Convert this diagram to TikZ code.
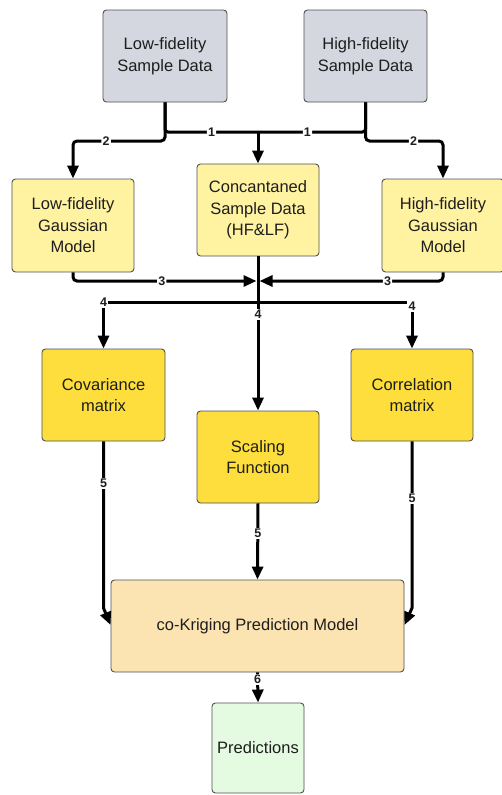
\documentclass[tikz,border=0pt]{standalone}
\usepackage{fontspec}
\setmainfont{Liberation Sans}
\usetikzlibrary{arrows.meta}

\definecolor{sampgrey}{RGB}{212,215,223}
\definecolor{paleyellow}{RGB}{255,243,162}
\definecolor{goldbox}{RGB}{253,222,60}
\definecolor{paleorange}{RGB}{252,227,178}
\definecolor{palegreen}{RGB}{228,250,225}
\definecolor{edgegrey}{RGB}{80,80,80}
\definecolor{inkdark}{RGB}{30,30,30}

\begin{document}
\begin{tikzpicture}[x=1pt,y=-1pt,
  stepbox/.style={draw=edgegrey, line width=0.9pt, rounded corners=3.5pt,
    align=center, inner sep=0pt, text=inkdark,
    font=\fontsize{16.5}{21.5}\selectfont,
    minimum width=122pt, minimum height=92pt},
  conn/.style={line width=3pt, draw=black},
  flow/.style={conn, -{Triangle[length=13pt,width=11pt]}},
  lab/.style={fill=white, inner sep=1.2pt, text=inkdark,
    font=\fontsize{12.5}{13}\selectfont\bfseries}]

\useasboundingbox[fill=white] (0,0) rectangle (501,795);

% input data
\node[stepbox, fill=sampgrey, minimum width=124pt] (lf) at (165,56) {Low-fidelity\\Sample Data};
\node[stepbox, fill=sampgrey, minimum width=123pt] (hf) at (365.5,56) {High-fidelity\\Sample Data};

% surrogate models and merged data
\node[stepbox, fill=paleyellow, minimum height=93pt] (lfg) at (73,225.5) {Low-fidelity\\Gaussian\\Model};
\node[stepbox, fill=paleyellow] (cat) at (258,210) {Concantaned\\Sample Data\\(HF\&LF)};
\node[stepbox, fill=paleyellow, minimum height=93pt] (hfg) at (443,225.5) {High-fidelity\\Gaussian\\Model};

% co-Kriging ingredients
\node[stepbox, fill=goldbox, minimum width=123pt] (cov) at (103.5,395) {Covariance\\matrix};
\node[stepbox, fill=goldbox] (sca) at (258,457) {Scaling\\Function};
\node[stepbox, fill=goldbox] (cor) at (412,395) {Correlation\\matrix};

% model and output
\node[stepbox, fill=paleorange, minimum width=293pt] (krig) at (257.5,626) {co-Kriging Prediction Model};
\node[stepbox, fill=palegreen, minimum width=92pt, minimum height=90pt] (pred) at (258,748) {Predictions};

% junction points of the connectors
\coordinate (j1) at (258,132);
\coordinate (c2l) at (73,141);
\coordinate (c2r) at (443,141);
\coordinate (j3) at (258,281);
\coordinate (j4) at (258,302);
\coordinate (bl) at (103.5,608);
\coordinate (br) at (412,608);

% step 1: both data sets merged
\draw[conn, rounded corners=3pt] (lf.south) |- node[lab, pos=0.75]{1} (j1);
\draw[conn, rounded corners=3pt] (hf.south) |- node[lab, pos=0.77]{1} (j1);
\draw[flow] (j1) -- (cat.north);

% step 2: separate Gaussian models
\draw[flow, rounded corners=4pt] (lf.south) |- node[lab, pos=0.82]{2} (c2l) -- (lfg.north);
\draw[flow, rounded corners=4pt] (hf.south) |- node[lab, pos=0.81]{2} (c2r) -- (hfg.north);

% step 3: models joined with the merged data
\draw[flow, rounded corners=4pt, shorten >=1.5pt] (lfg.south) |- node[lab, pos=0.74]{3} (j3);
\draw[flow, rounded corners=4pt, shorten >=1.5pt] (hfg.south) |- node[lab, pos=0.65]{3} (j3);

% step 4: building the co-Kriging parts
\draw[flow] (cat.south) -- node[lab, pos=0.374]{4} (sca.north);
\draw[flow] (j4) -| node[lab, pos=0.5]{4} (cov.north);
\draw[flow] (j4) -| node[lab, pos=0.55]{4} (cor.north);

% step 5: parts fed into the model
\draw[flow] (cov.south) -- node[lab, pos=0.25]{5} (bl) -- ([yshift=1pt]krig.west);
\draw[flow] (cor.south) -- node[lab, pos=0.34]{5} (br) -- ([yshift=1pt]krig.east);
\draw[flow] (sca.south) -- node[lab, pos=0.39]{5} (krig.north);

% step 6: predictions
\draw[flow] (krig.south) -- node[lab, pos=0.23]{6} (pred.north);

\end{tikzpicture}
\end{document}
